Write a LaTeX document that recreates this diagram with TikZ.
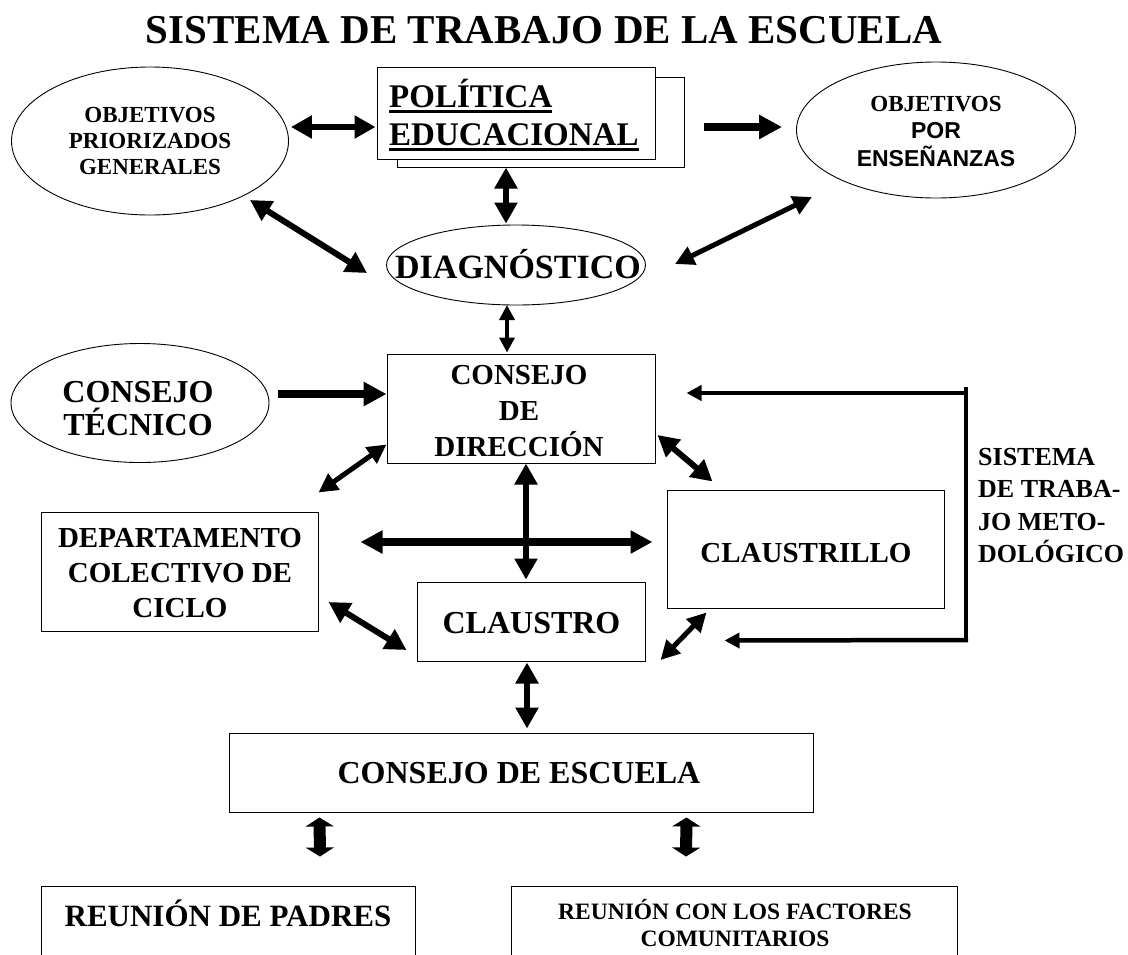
\documentclass[tikz,border=0pt]{standalone}
\usepackage{fontspec}
\setmainfont{Liberation Serif}
\newfontfamily\arialf{Liberation Sans}
\usetikzlibrary{arrows.meta,shapes.geometric,calc}
\newcommand\fs[2]{\fontsize{#1}{#2}\selectfont\bfseries}
\newcommand\thickul[1]{\setbox0\hbox{#1}\rlap{\copy0}\smash{\raisebox{-6pt}{\rule{\wd0}{3pt}}}}
\begin{document}
\begin{tikzpicture}[x=1pt,y=-1pt,
  box/.style={draw, line width=1pt, rectangle, inner sep=0pt},
  ell/.style={draw, line width=0.9pt, ellipse, inner sep=0pt},
  lbl/.style={inner sep=0pt, align=center},
  dbl/.style={line width=6pt,{Triangle[width=22pt,length=21pt]}-{Triangle[width=22pt,length=21pt]}},
  dblH/.style={line width=8pt,{Triangle[width=22pt,length=22pt]}-{Triangle[width=22pt,length=22pt]}},
  dblS/.style={line width=5pt,{Triangle[width=19pt,length=19pt]}-{Triangle[width=19pt,length=19pt]}},
  dblT/.style={line width=3.5pt,{Triangle[width=15pt,length=15pt]}-{Triangle[width=15pt,length=15pt]}},
  one/.style={line width=7.5pt,-{Triangle[width=23pt,length=23pt]}},
  fb/.style={line width=4.5pt,-{Triangle[width=15pt,length=15pt]}},
  blk/.style={line width=12pt,{Triangle[width=28pt,length=9pt]}-{Triangle[width=28pt,length=9pt]}}]
\fill[white] (0,0) rectangle (1128,954);
\useasboundingbox (0,0) rectangle (1128,954);

% title
\node[lbl, anchor=base, font=\fs{41}{48}] (title) at (544,43) {SISTEMA DE TRABAJO DE LA ESCUELA};

% top row
\node[ell, minimum width=277pt, minimum height=148pt] (opg) at (150,141) {};
\node[lbl, font=\fs{23}{26}] (opgT) at (150,141) {OBJETIVOS\\PRIORIZADOS\\GENERALES};

\node[box, minimum width=287pt, minimum height=90pt] (pe2) at (540.5,122) {};
\node[box, fill=white, minimum width=278pt, minimum height=92pt] (pe) at (516,113) {};
\node[inner sep=0pt, anchor=base west, font=\fs{33}{38}] (peT1) at (389,107) {\thickul{POLÍTICA}};
\node[inner sep=0pt, anchor=base west, font=\fs{33}{38}] (peT2) at (389,145) {\thickul{EDUCACIONAL}};

\node[ell, minimum width=279pt, minimum height=136pt] (ope) at (936,130) {};
\node[lbl, font=\fs{23}{27.5}] (opeT) at (936,131) {OBJETIVOS\\{\arialf\bfseries POR}\\{\arialf\bfseries ENSEÑANZAS}};

\node[ell, minimum width=259pt, minimum height=80pt] (diag) at (516,265) {};
\node[inner sep=0pt, anchor=base, font=\fs{34}{40}] (diagT) at (518,278) {DIAGNÓSTICO};

% middle
\node[ell, minimum width=258pt, minimum height=119pt] (ct) at (140,403) {};
\node[lbl, font=\fs{32}{33}] (ctT) at (138,408.5) {CONSEJO\\TÉCNICO};

\node[box, minimum width=268pt, minimum height=109pt] (cd) at (521,408.5) {};
\node[lbl, font=\fs{29}{36}] (cdT) at (519,411) {CONSEJO\\DE\\DIRECCIÓN};

\node[box, minimum width=277pt, minimum height=119pt] (dep) at (179.5,571.5) {};
\node[lbl, font=\fs{29}{35}] (depT) at (180,573) {DEPARTAMENTO\\COLECTIVO DE\\CICLO};

\node[box, minimum width=277pt, minimum height=118pt] (cll) at (805.5,549) {};
\node[inner sep=0pt, anchor=base, font=\fs{29}{35}] (cllT) at (806,562) {CLAUSTRILLO};

\node[box, minimum width=228pt, minimum height=79pt] (cla) at (531,621.5) {};
\node[inner sep=0pt, anchor=base, font=\fs{32}{38}] (claT) at (531.5,633.5) {CLAUSTRO};

\node[lbl, anchor=west, align=left, font=\fs{26}{32.5}] (sist) at (978,505.5) {SISTEMA\\DE TRABA-\\JO METO-\\DOLÓGICO};

% bottom
\node[box, minimum width=584pt, minimum height=79pt] (ce) at (521,772.5) {};
\node[inner sep=0pt, anchor=base, font=\fs{32}{38}] (ceT) at (519,783) {CONSEJO DE ESCUELA};

\begin{scope}
\clip (0,0) rectangle (1128,954);
\node[box, minimum width=374pt, minimum height=88pt] (pad) at (228,930) {};
\node[box, minimum width=446pt, minimum height=88pt] (fac) at (734,930) {};
\end{scope}
\node[inner sep=0pt, anchor=base, font=\fs{31}{36}] (padT) at (228,926) {REUNIÓN DE PADRES};
\node[lbl, font=\fs{23.5}{27}] (facT) at (735,923.5) {REUNIÓN CON LOS FACTORES\\COMUNITARIOS};

% connectors
\draw[dbl] ($(opg.east)+(2,-14)$) -- ($(pe.west)+(-1,14)$);
\draw[one] ($(pe.east)+(48,14)$) -- ($(ope.west)+(-14,-3)$);
\draw[dbl] ($(pe2.south)+(-34.5,0)$) -- ($(diag.north)+(-10,-1)$);
\draw[dbl] ($(opg.center)+(100,59)$) -- ($(diag.center)+(-149,8)$);
\draw[dblS] ($(ope.center)+(-124,67)$) -- ($(diag.center)+(159,-1)$);
\draw[dblT] ($(diag.center)+(-9,40)$) -- ($(cd.north)+(-14,-1)$);
\draw[one] ($(ct.center)+(138,-9)$) -- ($(cd.west)+(0,-14.5)$);

\coordinate (fbT) at (966,393);
\coordinate (fbB) at (966,640);
\draw[line width=4.5pt] ($(fbT)+(0,-6)$) -- (fbB);
\draw[fb] ($(fbT)+(2,0)$) -- ($(cd.east)+(31,-15.5)$);
\draw[fb] ($(fbB)+(2,0)$) -- ($(cll.south west)+(58,32)$);

\draw[dblS] ($(cd.south west)+(0,-19)$) -- ($(dep.north east)+(0,-19)$);
\draw[dbl] ($(cd.east)+(2,26.5)$) -- ($(cll.north west)+(46,-8)$);
\draw[dbl] ($(cd.south)+(5,0)$) -- ($(cla.north)+(-5,-2)$);
\draw[dblH] ($(dep.east)+(42,-29.5)$) -- ($(cll.west)+(-14,-7)$);
\draw[dbl] ($(dep.east)+(10,30.5)$) -- ($(cla.west)+(-10,28.5)$);
\draw[dblS] ($(cll.south west)+(40,4)$) -- ($(cla.east)+(15,38.5)$);
\draw[dbl] ($(cla.south)+(-4,1)$) -- ($(ce.north)+(6,-4)$);
\draw[blk] ($(ce.south west)+(91,5)$) -- ($(pad.north)+(92,-29)$);
\draw[blk] ($(ce.south east)+(-127,5)$) -- ($(fac.north)+(-48,-29)$);
\end{tikzpicture}
\end{document}
